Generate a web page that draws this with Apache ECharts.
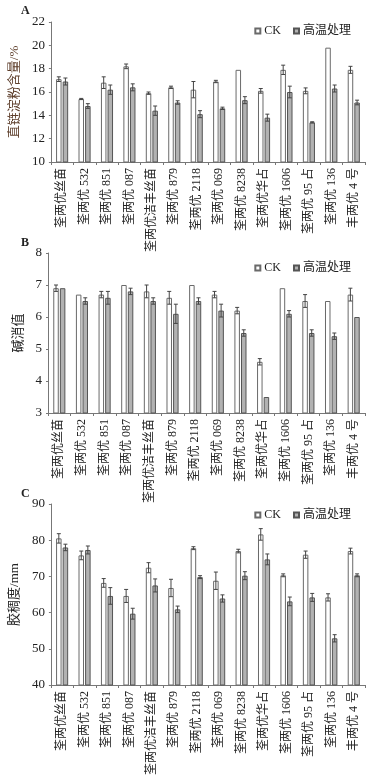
<!DOCTYPE html>
<html><head><meta charset="utf-8">
<script src="https://cdn.jsdelivr.net/npm/echarts@6/dist/echarts.min.js"></script>
<style>html,body{margin:0;padding:0;background:#fff;}#c{width:382px;height:779px;}</style>
</head><body><div id="c"></div>
<script>
const categories = ['荃两优丝苗','荃两优 532','荃两优 851','荃两优 087','荃两优洁丰丝苗','荃两优 879','荃两优 2118','荃两优 069','荃两优 8238','荃两优华占','荃两优 1606','荃两优 95 占','荃两优 136','丰两优 4 号'];
const seriesNames = ['CK','高温处理'];

// A: 直链淀粉含量/%
const amyloseCK = [17.1,15.4,16.8,18.2,15.9,16.4,16.2,16.9,17.9,16.1,17.9,16.1,19.8,17.9];
const amyloseCKErr = [0.2,0.05,0.5,0.2,0.1,0.1,0.7,0.1,0,0.2,0.4,0.25,0,0.3];
const amyloseHT = [16.9,14.8,16.2,16.4,14.4,15.1,14.1,14.6,15.3,13.8,16.0,13.4,16.3,15.1];
const amyloseHTErr = [0.3,0.2,0.4,0.3,0.4,0.15,0.3,0.1,0.3,0.3,0.5,0.05,0.3,0.2];

// B: 碱消值
const alkaliCK = [6.9,6.7,6.7,7.0,6.8,6.6,7.0,6.7,6.2,4.6,6.9,6.5,6.5,6.7];
const alkaliCKErr = [0.1,0,0.1,0,0.2,0.2,0,0.1,0.1,0.1,0,0.2,0,0.2];
const alkaliHT = [6.9,6.5,6.6,6.8,6.5,6.1,6.5,6.2,5.5,3.5,6.1,5.5,5.4,6.0];
const alkaliHTErr = [0,0.1,0.2,0.1,0.1,0.3,0.1,0.2,0.1,0,0.1,0.1,0.1,0];

// C: 胶稠度/mm
const gelCK = [80.5,75.8,68.2,64.6,72.4,66.8,77.8,68.8,77.0,81.6,70.3,76.0,64.2,77.0];
const gelCKErr = [1.3,1.2,1.2,1.8,1.4,2.4,0.4,2.4,0.5,1.6,0.4,1.0,1.0,0.8];
const gelHT = [78.0,77.3,64.6,59.7,67.5,60.9,69.8,63.9,70.2,74.7,63.1,64.2,52.9,70.3];
const gelHTErr = [0.9,1.1,2.3,1.5,1.8,0.9,0.4,1.0,1.1,1.5,1.2,1.1,1.0,0.4];

const panelLetters = ['A','B','C'];
const axisNames = ['直链淀粉含量/%','碱消值','胶稠度/mm'];
const yMins = [10,3,40], yMaxs = [22,8,90], yIntervals = [2,1,10];

const FONT = "'Liberation Serif','Noto Sans CJK SC',serif";
const panels = [
  {ck: amyloseCK, ckErr: amyloseCKErr, ht: amyloseHT, htErr: amyloseHTErr, top: 22, bottom: 617, legendTop: 20, letterTop: 5, nameColor: '#5e3f2c'},
  {ck: alkaliCK, ckErr: alkaliCKErr, ht: alkaliHT, htErr: alkaliHTErr, top: 253, bottom: 366, legendTop: 257, letterTop: 237, nameColor: '#222'},
  {ck: gelCK, ckErr: gelCKErr, ht: gelHT, htErr: gelHTErr, top: 504, bottom: 94, legendTop: 504, letterTop: 488, nameColor: '#222'}
];

const BAR_W = 5.5, HALF_SHIFT = 3.3;
const ckStyle = {color: '#ffffff', borderColor: '#6a6a6a', borderWidth: 1};
const htStyle = {color: '#b2b2b2', borderColor: '#555555', borderWidth: 1};

function errRender(shift) {
  return function(params, api) {
    const i = api.value(0), v = api.value(1), e = api.value(2);
    if (!e) return null;
    const hi = api.coord([i, v + e]);
    const lo = api.coord([i, v - e]);
    const x = hi[0] + shift;
    const st = {stroke: '#444', lineWidth: 1};
    return {type: 'group', children: [
      {type: 'line', shape: {x1: x, y1: hi[1], x2: x, y2: lo[1]}, style: st},
      {type: 'line', shape: {x1: x - 2, y1: hi[1], x2: x + 2, y2: hi[1]}, style: st},
      {type: 'line', shape: {x1: x - 2, y1: lo[1], x2: x + 2, y2: lo[1]}, style: st}
    ]};
  };
}

const grid = [], xAxis = [], yAxis = [], series = [], legend = [], graphic = [];
panels.forEach((p, k) => {
  grid.push({left: 48, right: 17, top: p.top, bottom: p.bottom});
  xAxis.push({
    type: 'category', gridIndex: k, data: categories,
    axisLine: {lineStyle: {color: '#777'}},
    axisTick: {show: true, length: 3, lineStyle: {color: '#777'}},
    axisLabel: {rotate: 90, interval: 0, fontSize: 12, color: '#222', fontFamily: FONT, margin: 6}
  });
  yAxis.push({
    type: 'value', gridIndex: k, min: yMins[k], max: yMaxs[k], interval: yIntervals[k],
    name: axisNames[k], nameLocation: 'middle', nameGap: 21,
    nameTextStyle: {fontSize: 13, color: p.nameColor, fontFamily: FONT},
    splitLine: {show: false},
    axisLine: {show: true, lineStyle: {color: '#777'}},
    axisTick: {show: true, length: 2, inside: false, lineStyle: {color: '#777'}},
    axisLabel: {fontSize: 13, color: '#222', fontFamily: FONT, margin: 6}
  });
  series.push({
    name: seriesNames[0], type: 'bar', xAxisIndex: k, yAxisIndex: k,
    data: p.ck, barWidth: BAR_W, barGap: '20%', itemStyle: ckStyle
  });
  series.push({
    name: seriesNames[1], type: 'bar', xAxisIndex: k, yAxisIndex: k,
    data: p.ht, barWidth: BAR_W, barGap: '20%', itemStyle: htStyle
  });
  series.push({
    type: 'custom', xAxisIndex: k, yAxisIndex: k, z: 5, silent: true,
    renderItem: errRender(-HALF_SHIFT),
    data: p.ck.map((v, i) => [i, v, p.ckErr[i]])
  });
  series.push({
    type: 'custom', xAxisIndex: k, yAxisIndex: k, z: 5, silent: true,
    renderItem: errRender(HALF_SHIFT),
    data: p.ht.map((v, i) => [i, v, p.htErr[i]])
  });
  legend.push({
    data: seriesNames, top: p.legendTop, right: 26, itemWidth: 5, itemHeight: 5, itemGap: 12,
    icon: 'rect',
    textStyle: {fontSize: 12, color: '#222', fontFamily: FONT, padding: [0, 0, 0, -1]}
  });
  graphic.push({type: 'text', left: 21, top: p.letterTop,
    style: {text: panelLetters[k], fontSize: 12, fontWeight: 'bold', fill: '#222', fontFamily: FONT}});
});

const chart = echarts.init(document.getElementById('c'), null, {renderer: 'canvas'});
chart.setOption({animation: false, backgroundColor: '#fff', grid, xAxis, yAxis, series, legend, graphic});
</script>
</body></html>
